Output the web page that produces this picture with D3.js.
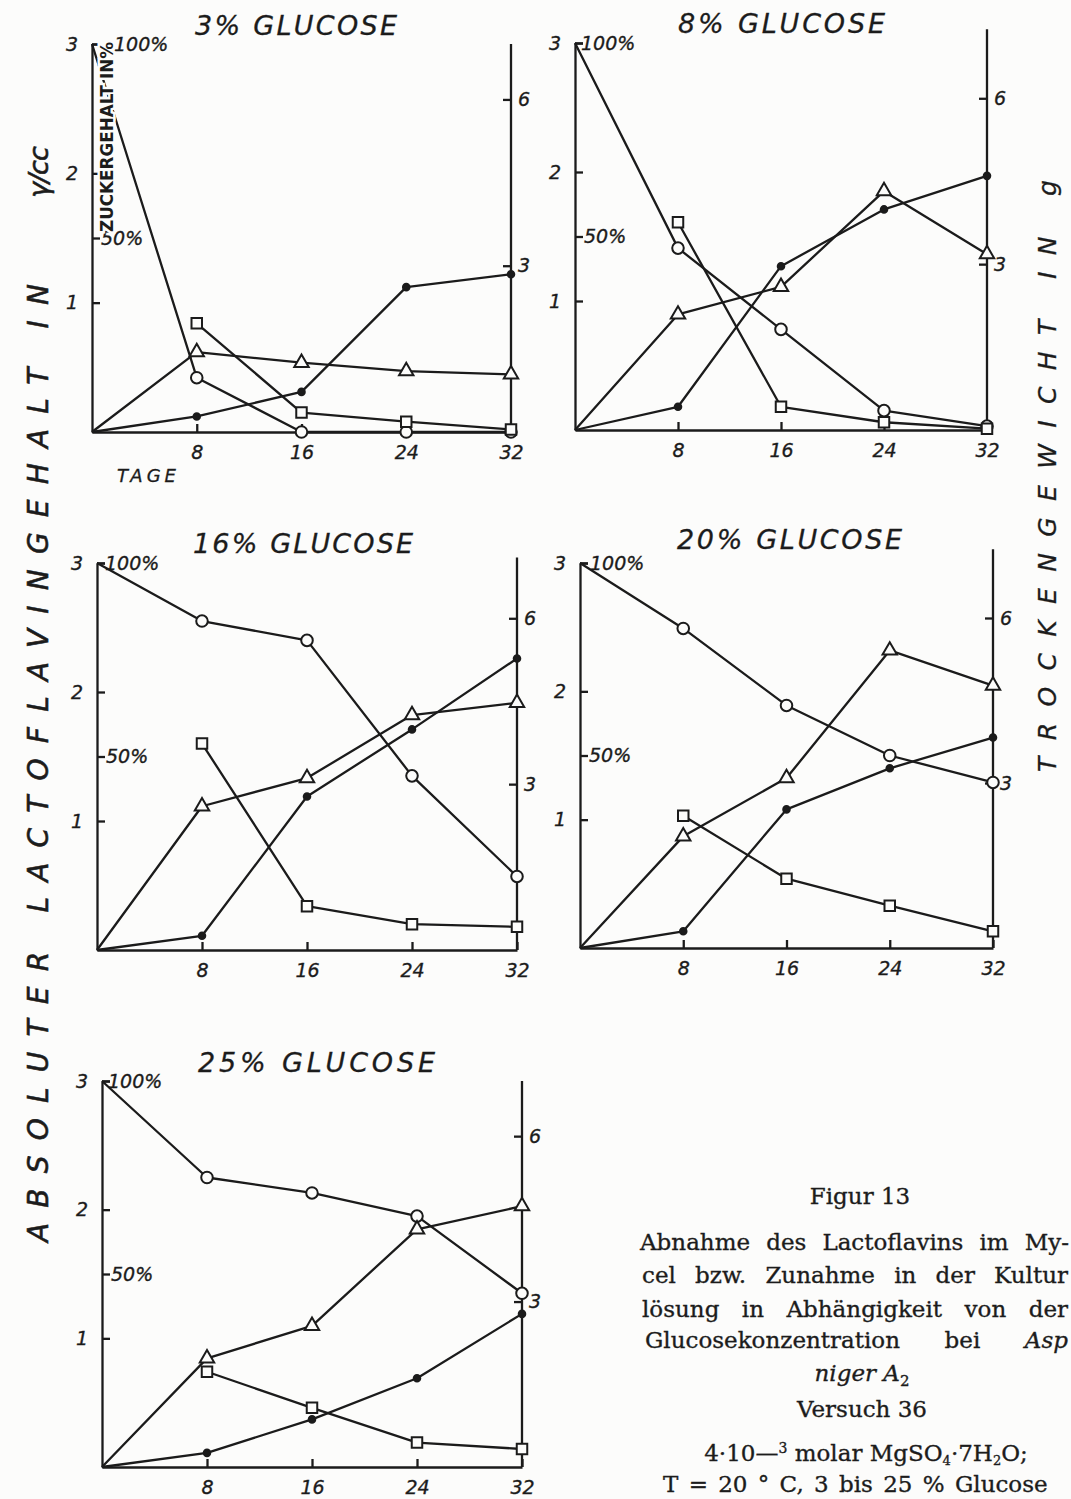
<!DOCTYPE html>
<html>
<head>
<meta charset="utf-8" />
<title>Figur 13</title>
<style>
html, body {
    margin: 0px;
    padding: 0px;
    background: #fcfcfb;
}
svg text { fill: #1c1c1c; }
</style>
</head>
<body>
<svg id="chart" width="1071" height="1499"></svg>

<script src="https://d3js.org/d3.v7.min.js"></script>
<script>
!(function(){
    "use strict"

    // --- data ---
    var days = [0, 8, 16, 24, 32]
    var titles = ["3% GLUCOSE", "8% GLUCOSE", "16% GLUCOSE", "20% GLUCOSE", "25% GLUCOSE"]
    var leftTicks = [1, 2, 3], pctTicks = [50, 100], rightTicks = [3, 6], dayTicks = [8, 16, 24, 32]

    // Zuckergehalt in % (open circles)
    var zucker = [
        [100, 14, 0, 0, 0],
        [100, 47, 26, 5, 1],
        [100, 85, 80, 45, 19],
        [100, 83, 63, 50, 43],
        [100, 75, 71, 65, 45]
    ]
    // lactoflavin im Mycel, gamma/cc (open squares)
    var mycel = [
        [null, 0.84, 0.15, 0.08, 0.02],
        [null, 1.61, 0.18, 0.06, 0.01],
        [null, 1.60, 0.34, 0.20, 0.18],
        [null, 1.03, 0.54, 0.33, 0.13],
        [null, 0.74, 0.46, 0.19, 0.14]
    ]
    // Trockengewicht in g (open triangles, right axis)
    var trocken = [
        [0, 1.44, 1.25, 1.10, 1.04],
        [0, 2.09, 2.59, 4.32, 3.18],
        [0, 2.60, 3.11, 4.25, 4.47],
        [0, 2.03, 3.09, 5.41, 4.77],
        [0, 1.97, 2.56, 4.31, 4.73]
    ]
    // lactoflavin in der Kulturloesung, gamma/cc (filled dots)
    var kultur = [
        [0, 0.12, 0.31, 1.12, 1.22],
        [0, 0.18, 1.27, 1.71, 1.97],
        [0, 0.11, 1.19, 1.71, 2.26],
        [0, 0.13, 1.08, 1.40, 1.64],
        [0, 0.11, 0.37, 0.69, 1.19]
    ]

    // --- layout of the five small plots ---
    var panels = [
        {x0: 92,  x1: 511, y0: 432,  y1: 44,   rTop: 7.0,  tx: 195, ty: 35,   tw: 202, pctDx: 22},
        {x0: 575, x1: 987, y0: 430,  y1: 43,   rTop: 7.25, tx: 678, ty: 33,   tw: 207, pctDx: 6},
        {x0: 97,  x1: 517, y0: 950,  y1: 563,  rTop: 7.1,  tx: 193, ty: 553,  tw: 220, pctDx: 8},
        {x0: 580, x1: 993, y0: 948,  y1: 563,  rTop: 7.25, tx: 677, ty: 549,  tw: 225, pctDx: 10},
        {x0: 102, x1: 522, y0: 1467, y1: 1081, rTop: 7.0,  tx: 198, ty: 1072, tw: 237, pctDx: 6}
    ]

    var ink = "#1b1b1b", paper = "#fcfcfb"
    var sans = "'DejaVu Sans', sans-serif"
    var serif = "'DejaVu Serif', serif"

    var svg = d3.select("#chart")

    function styleAxis(g) {
        g.selectAll("line, path").attr("stroke", ink).attr("stroke-width", 2.3)
        g.selectAll("text")
            .attr("font-family", sans)
            .attr("font-style", "italic")
            .attr("font-size", 19)
            .attr("fill", ink)
            .attr("stroke", ink)
            .attr("stroke-width", 0.35)
    }

    panels.forEach(function(p, i) {
        var g = svg.append("g")

        var x = d3.scaleLinear().domain([0, 32]).range([p.x0, p.x1])
        var y = d3.scaleLinear().domain([0, 3]).range([p.y0, p.y1])
        var yPct = d3.scaleLinear().domain([0, 100]).range([p.y0, p.y1])
        var yR = d3.scaleLinear().domain([0, 7]).range([p.y0, p.y1])

        // title
        g.append("text")
            .attr("x", p.tx).attr("y", p.ty)
            .attr("textLength", p.tw).attr("lengthAdjust", "spacing")
            .attr("font-family", sans).attr("font-style", "italic")
            .attr("font-size", 27)
            .attr("stroke", ink).attr("stroke-width", 0.3)
            .text(titles[i])

        // left axis (gamma/cc)
        g.append("g")
            .attr("transform", "translate(" + p.x0 + ",0)")
            .call(d3.axisLeft(y).tickValues(leftTicks).tickSizeInner(-8).tickSizeOuter(0).tickPadding(14).tickFormat(d3.format("d")))
            .call(styleAxis)

        // percent labels on the left axis
        var pg = g.append("g")
            .attr("transform", "translate(" + p.x0 + ",0)")
            .call(d3.axisRight(yPct).tickValues(pctTicks).tickSize(8).tickPadding(1).tickFormat(function(d){ return d + "%" }))
            .call(styleAxis)
        pg.select(".domain").remove()
        pg.selectAll(".tick text").filter(function(d){ return d === 100 })
            .attr("x", p.pctDx)

        // right axis (Trockengewicht g)
        var rg = g.append("g")
            .attr("transform", "translate(" + p.x1 + ",0)")
            .call(d3.axisRight(yR).tickValues(rightTicks).tickSizeInner(-8).tickSizeOuter(0).tickPadding(7).tickFormat(d3.format("d")))
            .call(styleAxis)
        rg.select(".domain").remove()
        rg.append("line")
            .attr("y1", yR(0)).attr("y2", yR(p.rTop))
            .attr("stroke", ink).attr("stroke-width", 2.3)

        // x axis (Tage)
        g.append("g")
            .attr("transform", "translate(0," + p.y0 + ")")
            .call(d3.axisBottom(x).tickValues(dayTicks).tickSizeInner(-8).tickSizeOuter(0).tickPadding(14))
            .call(styleAxis)

        var series = [
            {vals: zucker[i],  y: yPct, shape: d3.symbolCircle,   size: 105, fill: paper},
            {vals: mycel[i],   y: y,    shape: d3.symbolSquare,   size: 110, fill: paper},
            {vals: trocken[i], y: yR,   shape: d3.symbolTriangle, size: 90,  fill: paper},
            {vals: kultur[i],  y: y,    shape: d3.symbolCircle,   size: 34,  fill: ink}
        ]

        series.forEach(function(s) {
            var pts = days.map(function(d, j){ return {day: d, v: s.vals[j]} })
            var line = d3.line()
                .defined(function(d){ return d.v != null })
                .x(function(d){ return x(d.day) })
                .y(function(d){ return s.y(d.v) })
            g.append("path")
                .datum(pts)
                .attr("d", line)
                .attr("fill", "none")
                .attr("stroke", ink)
                .attr("stroke-width", 2.3)
                .attr("stroke-linejoin", "round")
            s.pts = pts
        })

        series.forEach(function(s) {
            g.selectAll(null)
                .data(s.pts.filter(function(d){ return d.v != null && d.day > 0 }))
                .enter()
                .append("path")
                .attr("transform", function(d){ return "translate(" + x(d.day) + "," + s.y(d.v) + ")" })
                .attr("d", d3.symbol().type(s.shape).size(s.size))
                .attr("fill", s.fill)
                .attr("stroke", ink)
                .attr("stroke-width", 2)
        })

        if (i === 0) {
            // sugar label sits on top of the first curve
            g.append("text")
                .attr("transform", "translate(113,232) rotate(-90)")
                .attr("textLength", 190).attr("lengthAdjust", "spacingAndGlyphs")
                .attr("font-family", sans).attr("font-weight", "bold")
                .attr("font-size", 17)
                .attr("stroke", paper).attr("stroke-width", 5).attr("paint-order", "stroke")
                .text("ZUCKERGEHALT IN%")
            g.append("text")
                .attr("x", 117).attr("y", 482)
                .attr("font-family", sans).attr("font-style", "italic")
                .attr("font-size", 18).attr("letter-spacing", 4)
                .attr("stroke", ink).attr("stroke-width", 0.3)
                .text("TAGE")
        }
    })

    // big side labels
    svg.append("text")
        .attr("transform", "translate(48,1242) rotate(-90)")
        .attr("textLength", 958).attr("lengthAdjust", "spacing")
        .attr("font-family", sans).attr("font-style", "italic")
        .attr("font-size", 28)
        .attr("stroke", ink).attr("stroke-width", 0.6)
        .text("ABSOLUTER LACTOFLAVINGEHALT IN")
    svg.append("text")
        .attr("transform", "translate(48,198) rotate(-90)")
        .attr("font-family", sans).attr("font-style", "italic")
        .attr("font-size", 27).attr("letter-spacing", -1)
        .attr("stroke", ink).attr("stroke-width", 0.6)
        .text("γ/cc")

    svg.append("text")
        .attr("transform", "translate(1056,476) rotate(-90)")
        .attr("text-anchor", "middle")
        .attr("textLength", 592).attr("lengthAdjust", "spacing")
        .attr("font-family", sans).attr("font-style", "italic")
        .attr("font-size", 25)
        .attr("stroke", ink).attr("stroke-width", 0.3)
        .text("TROCKENGEWICHT IN g")

    // caption
    var cap = svg.append("g").attr("font-family", serif).attr("font-size", 23)
        .attr("stroke", "#1c1c1c").attr("stroke-width", 0.35)

    // justify a caption line by widening the word gaps
    function justify(sel, width) {
        var n = sel.node()
        var natural = n.getComputedTextLength()
        var gaps = (n.textContent.match(/ /g) || []).length
        if (gaps) sel.attr("word-spacing", (width - natural) / gaps)
    }

    cap.append("text").attr("x", 860).attr("y", 1204).attr("text-anchor", "middle").text("Figur 13")
    justify(cap.append("text").attr("x", 640).attr("y", 1250).text("Abnahme des Lactoflavins im My-"), 429)
    justify(cap.append("text").attr("x", 642).attr("y", 1283).text("cel bzw. Zunahme in der Kultur"), 426)
    justify(cap.append("text").attr("x", 642).attr("y", 1317).text("lösung in Abhängigkeit von der"), 426)

    var l4 = cap.append("text").attr("x", 645).attr("y", 1348)
    l4.append("tspan").text("Glucosekonzentration bei ")
    l4.append("tspan").attr("font-style", "italic").text("Asp")
    justify(l4, 423)

    var ng = cap.append("text").attr("x", 862).attr("y", 1381).attr("text-anchor", "middle")
    ng.append("tspan").attr("font-style", "italic").text("niger  A")
    ng.append("tspan").attr("dy", 5).attr("font-size", 15).text("2")

    cap.append("text").attr("x", 862).attr("y", 1417).attr("text-anchor", "middle").text("Versuch 36")

    var mg = cap.append("text").attr("x", 866).attr("y", 1461).attr("text-anchor", "middle")
    mg.append("tspan").text("4·10—")
    mg.append("tspan").attr("dy", -8).attr("font-size", 14).text("3")
    mg.append("tspan").attr("dy", 8).text(" molar MgSO")
    mg.append("tspan").attr("dy", 4).attr("font-size", 13).text("4")
    mg.append("tspan").attr("dy", -4).text("·7H")
    mg.append("tspan").attr("dy", 4).attr("font-size", 13).text("2")
    mg.append("tspan").attr("dy", -4).text("O;")

    cap.append("text").attr("x", 663).attr("y", 1492).attr("word-spacing", 3)
        .text("T = 20 ° C, 3 bis 25 % Glucose")

}());
</script>
</body>
</html>
